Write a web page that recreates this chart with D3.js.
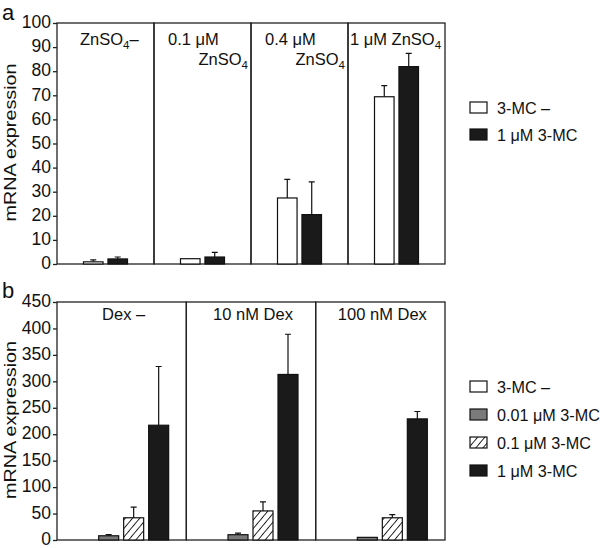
<!DOCTYPE html>
<meta charset="utf-8">
<style>
  body { margin: 0; background: #fff; }
  svg { font-family: "Liberation Sans", Arial, Helvetica, sans-serif; }
  .frame { fill: none; stroke: #222; stroke-width: 1.3; }
  .tick text { font-size: 17.5px; fill: #111; }
  .tick line, .domain { stroke: #222; stroke-width: 1.3; }
  .bar { stroke: #111; stroke-width: 1.2; }
  .err { stroke: #111; stroke-width: 1.2; fill: none; }
  .ptitle { font-size: 16.5px; fill: #111; }
  .leg { font-size: 16.2px; fill: #111; }
</style>
<body></body>
<script src="https://cdn.jsdelivr.net/npm/d3@7"></script>
<script>

// panel a
var groupsA = ["ZnSO4-", "0.1 uM ZnSO4", "0.4 uM ZnSO4", "1 uM ZnSO4"];
var seriesA = ["3-MC –", "1 μM 3-MC"];
var meanA = [[0.9, 2.1], [2.2, 2.9], [27.4, 20.5], [69.4, 81.9]];
var errA  = [[0.8, 0.8], [0, 1.9], [7.7, 13.6], [4.6, 5.5]];
var ticksA = [0, 10, 20, 30, 40, 50, 60, 70, 80, 90, 100];

// panel b
var groupsB = ["Dex –", "10 nM Dex", "100 nM Dex"];
var seriesB = ["3-MC –", "0.01 μM 3-MC", "0.1 μM 3-MC", "1 μM 3-MC"];
var meanB = [[0, 8, 42, 217], [0, 10, 55, 313], [0, 5, 42, 229]];
var errB  = [[0, 2, 20, 111], [0, 3, 17, 76], [0, 0, 6, 14]];
var ticksB = [0, 50, 100, 150, 200, 250, 300, 350, 400, 450];

var fills = {
  "3-MC –": "#fff",
  "0.01 μM 3-MC": "#7a7a7a",
  "0.1 μM 3-MC": "url(#hatch)",
  "1 μM 3-MC": "#1a1a1a"
};

var svg = d3.select("body").append("svg")
    .attr("width", 600)
    .attr("height", 548);

var pat = svg.append("defs").append("pattern")
    .attr("id", "hatch")
    .attr("patternUnits", "userSpaceOnUse")
    .attr("width", 5.5)
    .attr("height", 5.5)
    .attr("patternTransform", "rotate(40)");
pat.append("rect").attr("width", 5.5).attr("height", 5.5).attr("fill", "#fff");
pat.append("line")
    .attr("x1", 0).attr("y1", 0).attr("x2", 0).attr("y2", 5.5)
    .attr("stroke", "#111").attr("stroke-width", 1.8);

function panel(opts) {
  var g = svg.append("g");
  var x = d3.scaleBand().domain(opts.groups).range([57, 445]);
  var y = d3.scaleLinear().domain([0, opts.max]).range([opts.bottom, opts.top]);
  var w = x.bandwidth();
  var inner = d3.scaleBand().domain(opts.series)
      .range([w / 2 + opts.span[0], w / 2 + opts.span[1]])
      .paddingInner(0.2);

  g.append("g")
      .attr("transform", "translate(57,0)")
      .call(d3.axisLeft(y).tickValues(opts.ticks).tickSize(4).tickPadding(2).tickSizeOuter(0))
      .call(s => s.select(".domain").remove())
      .call(s => s.selectAll(".tick text").attr("dy", "0.27em"));

  g.selectAll(".frame")
      .data(opts.groups)
    .enter().append("rect")
      .attr("class", "frame")
      .attr("x", d => x(d))
      .attr("y", opts.top)
      .attr("width", w)
      .attr("height", opts.bottom - opts.top);

  opts.groups.forEach(function(grp, gi) {
    var data = opts.series.map((s, si) => ({s: s, v: opts.mean[gi][si], e: opts.err[gi][si]}))
        .filter(d => d.v > 0);
    var gg = g.append("g").attr("transform", "translate(" + x(grp) + ",0)");
    gg.selectAll(".bar")
        .data(data)
      .enter().append("rect")
        .attr("class", "bar")
        .attr("x", d => inner(d.s))
        .attr("y", d => y(d.v))
        .attr("width", inner.bandwidth())
        .attr("height", d => y(0) - y(d.v))
        .attr("fill", d => fills[d.s]);
    gg.selectAll(".err")
        .data(data.filter(d => d.e > 0))
      .enter().append("path")
        .attr("class", "err")
        .attr("d", function(d) {
          var cx = inner(d.s) + inner.bandwidth() / 2;
          return "M" + cx + "," + y(d.v) + "V" + y(d.v + d.e) +
                 "M" + (cx - 3) + "," + y(d.v + d.e) + "H" + (cx + 3);
        });
  });

  g.append("text")
      .attr("transform", "translate(16," + ((opts.top + opts.bottom) / 2 - 1) + ") rotate(-90)")
      .attr("text-anchor", "middle")
      .attr("textLength", 158)
      .attr("lengthAdjust", "spacingAndGlyphs")
      .style("font-size", "17px")
      .style("fill", "#111")
      .text("mRNA expression");

  g.append("text")
      .attr("x", 2)
      .attr("y", opts.letterY)
      .style("font-size", "22px")
      .style("fill", "#111")
      .text(opts.letter);

  var leg = g.selectAll(".legrow")
      .data(opts.series)
    .enter().append("g")
      .attr("transform", (d, i) => "translate(470," + (opts.legY + i * opts.legStep) + ")");
  leg.append("rect")
      .attr("class", "bar")
      .attr("width", 17)
      .attr("height", 11)
      .attr("fill", d => fills[d]);
  leg.append("text")
      .attr("class", "leg")
      .attr("x", 27)
      .attr("y", 11.5)
      .text(d => d);

  return {g: g, x: x, w: w};
}

var pa = panel({
  groups: groupsA, series: seriesA, mean: meanA, err: errA, ticks: ticksA,
  max: 100, top: 23, bottom: 264, span: [-22, 22],
  letter: "a", letterY: 20, legY: 102, legStep: 27
});

var pb = panel({
  groups: groupsB, series: seriesB, mean: meanB, err: errB, ticks: ticksB,
  max: 450, top: 302, bottom: 540, span: [-48, 47],
  letter: "b", letterY: 298, legY: 381, legStep: 28
});

// panel a titles (with subscripts)
function zn(t, x, y, anchor, prefix, suffix) {
  var tx = t.append("text")
      .attr("class", "ptitle")
      .attr("x", x).attr("y", y)
      .attr("text-anchor", anchor);
  tx.append("tspan").text(prefix + "ZnSO");
  tx.append("tspan").attr("dy", 4).style("font-size", "11.5px").text("4");
  if (suffix) tx.append("tspan").attr("dy", -4).text(suffix);
}
var xa = pa.x;
zn(pa.g, xa(groupsA[0]) + 23, 45, "start", "", "–");
pa.g.append("text").attr("class", "ptitle").attr("x", xa(groupsA[1]) + 14).attr("y", 45).text("0.1 μM");
zn(pa.g, xa(groupsA[1]) + pa.w - 3, 65, "end", "", "");
pa.g.append("text").attr("class", "ptitle").attr("x", xa(groupsA[2]) + 14).attr("y", 45).text("0.4 μM");
zn(pa.g, xa(groupsA[2]) + pa.w - 3, 65, "end", "", "");
zn(pa.g, xa(groupsA[3]) + 2, 45, "start", "1 μM ", "");

pb.g.selectAll(".bt")
    .data(groupsB)
  .enter().append("text")
    .attr("class", "ptitle")
    .attr("x", d => pb.x(d) + pb.w / 2 + 2)
    .attr("y", 320)
    .attr("text-anchor", "middle")
    .text(d => d);
</script>
